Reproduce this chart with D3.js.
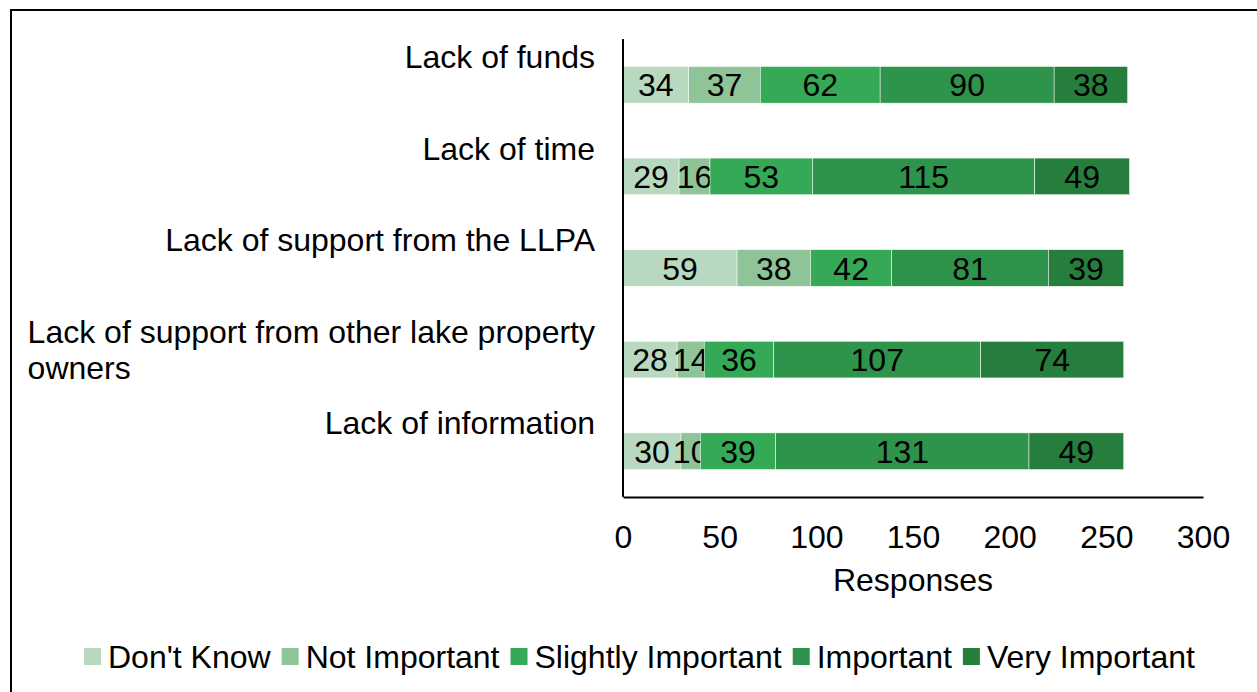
<!DOCTYPE html>
<html><head><meta charset="utf-8">
<script src="https://cdn.jsdelivr.net/npm/d3@7"></script>
<style>body{margin:0;background:#fff}svg{display:block}text{font-family:"Liberation Sans",Arial,sans-serif}</style>
</head><body><svg id="c" width="1257" height="692"></svg>
<script>
const categories = ["Lack of funds","Lack of time","Lack of support from the LLPA","Lack of support from other lake property owners","Lack of information"];
const categoryLines = [["Lack of funds"],["Lack of time"],["Lack of support from the LLPA"],["Lack of support from other lake property","owners"],["Lack of information"]];
const seriesNames = ["Don't Know","Not Important","Slightly Important","Important","Very Important"];
const dontKnow = [34,29,59,28,30];
const notImportant = [37,16,38,14,10];
const slightlyImportant = [62,53,42,36,39];
const important = [90,115,81,107,131];
const veryImportant = [38,49,39,74,49];
const colors = ["#b9d8c0","#8ec498","#35a955","#2f944b","#267e3c"];
const xTicks = [0,50,100,150,200,250,300];

const FS = 32;
const seriesValues = [dontKnow,notImportant,slightlyImportant,important,veryImportant];
const rows = categories.map((c,i)=>{const o={cat:c};seriesNames.forEach((s,j)=>o[s]=seriesValues[j][i]);return o;});
const stack = d3.stack().keys(seriesNames)(rows);

const svg = d3.select("#c");
svg.append("rect").attr("x",11).attr("y",10).attr("width",1260).attr("height",700).attr("fill","none").attr("stroke","#000").attr("stroke-width",2);

const pL=623,pR=1203,pT=39,pB=497;
const x = d3.scaleLinear().domain([0,300]).range([pL,pR]);
const y = d3.scaleBand().domain(categories).range([pT,pB]).paddingInner(0.6).paddingOuter(0.3);

const g = svg.append("g");
stack.forEach((layer,j)=>{
  g.selectAll(null).data(layer).enter().append("rect")
    .attr("x",d=>x(d[0])).attr("width",d=>x(d[1])-x(d[0]))
    .attr("y",d=>y(d.data.cat)).attr("height",y.bandwidth())
    .attr("fill",colors[j]).attr("stroke","#fff").attr("stroke-width",0.5);
  g.selectAll(null).data(layer).enter().append("text")
    .attr("x",d=>(x(d[0])+x(d[1]))/2).attr("y",d=>y(d.data.cat)+y.bandwidth()/2)
    .attr("dy","0.36em").attr("text-anchor","middle").attr("font-size",FS).attr("fill","#000")
    .text(d=>d[1]-d[0]);
});

const xAxis = d3.axisBottom(x).tickValues(xTicks).tickSize(0).tickPadding(28);
const ax = svg.append("g").attr("transform",`translate(0,${pB})`).call(xAxis);
ax.select(".domain").attr("stroke","#000").attr("stroke-width",2);
ax.selectAll("text").attr("font-size",FS).attr("fill","#000").attr("font-family","Liberation Sans, Arial, sans-serif");
svg.append("line").attr("x1",pL).attr("x2",pL).attr("y1",pT).attr("y2",pB).attr("stroke","#000").attr("stroke-width",2);

svg.append("text").attr("x",(pL+pR)/2).attr("y",591).attr("text-anchor","middle").attr("font-size",FS).text("Responses");

const step = y.step();
categories.forEach((c,i)=>{
  const bandTop = pT + i*step;
  const t = svg.append("text").attr("font-size",FS).attr("fill","#000");
  const spans = categoryLines[i].map((ln,k)=>t.append("tspan").attr("x",0).attr("y",bandTop+29+k*36).text(ln));
  const w = d3.max(spans, s=>s.node().getComputedTextLength());
  spans.forEach(s=>s.attr("x",595-w));
});

const lg = svg.append("g");
let lx = 84;
seriesNames.forEach((s,j)=>{
  lg.append("rect").attr("x",lx).attr("y",648).attr("width",17).attr("height",17).attr("fill",colors[j]);
  const t = lg.append("text").attr("x",lx+24).attr("y",668).attr("font-size",FS).text(s);
  lx += 24 + t.node().getComputedTextLength() + 11;
});
</script></body></html>
